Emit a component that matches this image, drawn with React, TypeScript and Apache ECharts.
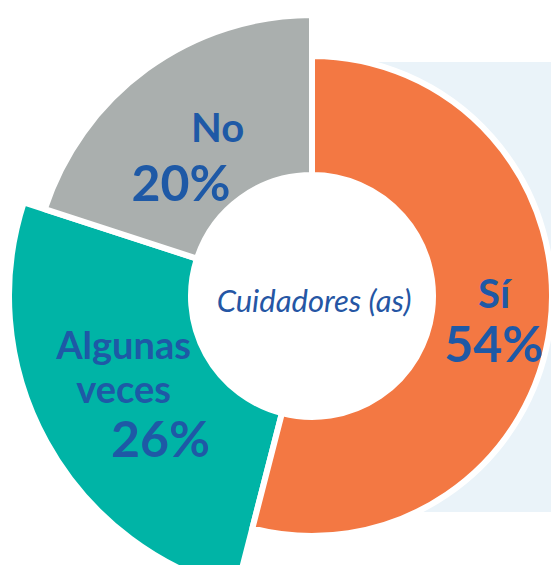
import React, { useEffect, useRef } from "react";
import * as echarts from "echarts";

const categories = ["Sí", "Algunas veces", "No"];
const values = [54, 26, 20];
const colors = ["#F37843", "#00B4A6", "#AAAFAE"];
const centerLabel = "Cuidadores (as)";

const W = 551;
const H = 565;
const CENTER: [number, number] = [312, 296];
const INNER = 121;
const OUTER = [240, 303, 281];
const DRAW_ORDER = [1, 2, 0];

const BLUE = "#1E59A6";
const FONT = "Lato, 'Open Sans', sans-serif";

const labelCfg = [
  {
    lines: (name: string, v: number) => `{n|${name}}\n{p|${v}%}`,
    rich: {
      n: { fontSize: 40, lineHeight: 48 },
      p: { fontSize: 50, lineHeight: 52 },
    },
    dx: 0,
    dy: 0,
  },
  {
    lines: (name: string, v: number) =>
      name.split(" ").map((w) => `{n|${w}}`).join("\n") + `\n{p|${v}%}`,
    rich: {
      n: { fontSize: 38, lineHeight: 44 },
      p: { fontSize: 50, lineHeight: 56, padding: [0, 0, 0, 74] },
    },
    dx: 0,
    dy: -6,
  },
  {
    lines: (name: string, v: number) => `{n|${name}}\n{p|${v}%}`,
    rich: {
      n: { fontSize: 40, lineHeight: 52, padding: [0, 0, 0, 73] },
      p: { fontSize: 50, lineHeight: 58 },
    },
    dx: -11,
    dy: 25,
  },
];

function buildSeries(k: number) {
  const cfg = labelCfg[k];
  const rich: any = {};
  Object.keys(cfg.rich).forEach((key) => {
    rich[key] = {
      fontFamily: FONT,
      fontWeight: "bold",
      color: BLUE,
      ...(cfg.rich as any)[key],
    };
  });
  return {
    type: "pie",
    center: CENTER,
    radius: [INNER, OUTER[k]],
    startAngle: 90,
    clockwise: true,
    silent: true,
    avoidLabelOverlap: false,
    labelLine: { show: false },
    emphasis: { disabled: true },
    labelLayout: { dx: cfg.dx, dy: cfg.dy },
    data: categories.map((name, i) => {
      const visible = i === k;
      return {
        name,
        value: values[i],
        itemStyle: visible
          ? { color: colors[i], borderColor: "#ffffff", borderWidth: 6 }
          : { color: "transparent", borderWidth: 0 },
        label: visible
          ? {
              show: true,
              position: "inside",
              formatter: () => cfg.lines(name, values[i]),
              rich,
            }
          : { show: false },
      };
    }),
  };
}

export default function App() {
  const ref = useRef<HTMLDivElement>(null);
  useEffect(() => {
    if (!ref.current) return;
    const chart = echarts.init(ref.current, undefined, { renderer: "svg" });
    chart.setOption({
      animation: false,
      backgroundColor: "#ffffff",
      graphic: [
        {
          type: "rect",
          z: -10,
          silent: true,
          shape: { x: 320, y: 62, width: W - 320, height: 450 },
          style: { fill: "#EAF3F9" },
        },
        {
          type: "circle",
          z: -5,
          silent: true,
          shape: { cx: CENTER[0], cy: CENTER[1], r: INNER + 4 },
          style: { fill: "#ffffff" },
        },
        {
          type: "text",
          z: 100,
          x: 314,
          y: 300,
          silent: true,
          style: {
            text: centerLabel,
            fontFamily: FONT,
            fontStyle: "italic",
            fontSize: 31,
            fill: "#2556A4",
            textAlign: "center",
            textVerticalAlign: "middle",
          },
        },
      ],
      series: DRAW_ORDER.map((k) => buildSeries(k)),
    });
    return () => chart.dispose();
  }, []);
  return (
    <div
      ref={ref}
      style={{ position: "absolute", left: 0, top: 0, width: W, height: H }}
    />
  );
}
